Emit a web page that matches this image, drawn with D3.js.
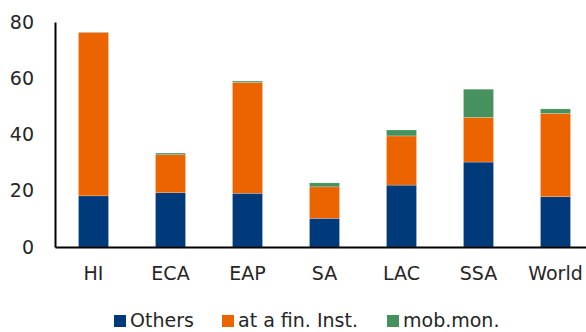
<!DOCTYPE html>
<html>
<head>
<meta charset="utf-8">
<script src="https://cdn.jsdelivr.net/npm/d3@7"></script>
<style>
  html, body { margin: 0; padding: 0; background: #fff; overflow: hidden; }
  svg { display: block; }
  text { font-family: "DejaVu Sans", sans-serif; fill: #262626; }
</style>
</head>
<body>
<svg id="chart" width="586" height="332"></svg>
<script>
// Account ownership by region, split by channel
const regions = ["HI", "ECA", "EAP", "SA", "LAC", "SSA", "World"];
const others   = [18.2, 19.3, 19.1, 10.2, 22.0, 30.2, 17.9];
const finInst  = [58.1, 13.5, 39.4, 11.2, 17.5, 15.9, 29.6];
const mobMoney = [0.1, 0.6, 0.5, 1.4, 2.1, 10.0, 1.6];
const seriesNames = ["Others", "at a fin. Inst.", "mob.mon."];
const yTicks = [0, 20, 40, 60, 80];

const colors = ["#003A7A", "#EB6400", "#45925E"];

const rows = regions.map((r, i) => ({
  region: r,
  s0: others[i],
  s1: finInst[i],
  s2: mobMoney[i]
}));

const svg = d3.select("#chart");
const x0 = 55, x1 = 594, yTop = 22, yBase = 247;

const x = d3.scaleBand().domain(regions).range([x0, x1]).paddingInner(0.61).paddingOuter(0.305);
const y = d3.scaleLinear().domain([0, 80]).range([yBase, yTop]);

const stacked = d3.stack().keys(["s0", "s1", "s2"])(rows);

svg.append("g")
  .selectAll("g")
  .data(stacked)
  .join("g")
  .attr("fill", (d, i) => colors[i])
  .selectAll("rect")
  .data(d => d)
  .join("rect")
  .attr("x", d => x(d.data.region))
  .attr("width", x.bandwidth())
  .attr("y", d => y(d[1]))
  .attr("height", d => y(d[0]) - y(d[1]))
  .attr("stroke", "#ffffff")
  .attr("stroke-opacity", 0.35)
  .attr("stroke-width", 0.6);

// Y axis
const yAxis = svg.append("g")
  .attr("transform", `translate(${x0},0)`)
  .call(d3.axisLeft(y).tickValues(yTicks).tickSize(0).tickPadding(21));
yAxis.select(".domain").attr("stroke", "#000").attr("stroke-width", 2);
yAxis.selectAll("text").style("font-size", "19px").attr("fill", "#262626");

// X axis
const xAxis = svg.append("g")
  .attr("transform", `translate(0,${yBase})`)
  .call(d3.axisBottom(x).tickSize(0).tickPadding(20));
xAxis.select(".domain").attr("stroke", "#000").attr("stroke-width", 2);
xAxis.selectAll("text").style("font-size", "19px").attr("fill", "#262626");

// Legend
const legendX = [114, 222, 387];
const legend = svg.append("g");
seriesNames.forEach((name, i) => {
  legend.append("rect")
    .attr("x", legendX[i]).attr("y", 315)
    .attr("width", 12).attr("height", 12)
    .attr("fill", colors[i]);
  legend.append("text")
    .attr("x", legendX[i] + 16).attr("y", 327)
    .style("font-size", "19px")
    .text(name);
});
</script>
</body>
</html>
